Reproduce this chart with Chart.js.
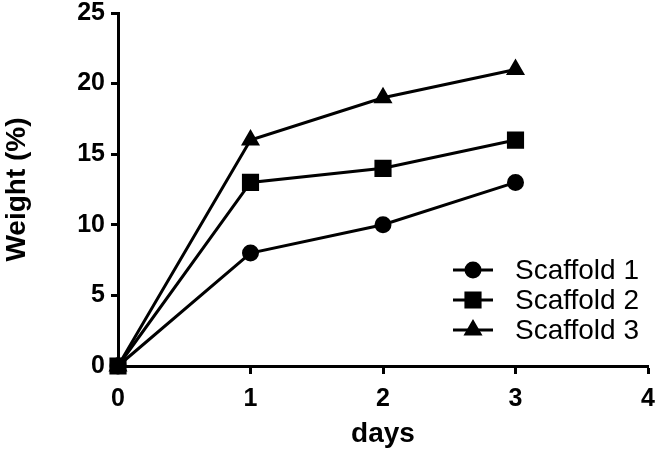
<!DOCTYPE html>
<html>
<head>
<meta charset="utf-8">
<script src="https://cdn.jsdelivr.net/npm/chart.js@4/dist/chart.umd.min.js"></script>
<style>
  html, body { margin: 0; padding: 0; background: #fff; }
  #wrap { width: 661px; height: 451px; }
</style>
</head>
<body>
<div id="wrap"><canvas id="weightChart"></canvas></div>
<script>
const days = [0, 1, 2, 3];
const scaffold1 = [0, 8, 10, 13];
const scaffold2 = [0, 13, 14, 16];
const scaffold3 = [0, 16, 19, 21];
const seriesNames = ['Scaffold 1', 'Scaffold 2', 'Scaffold 3'];
const markers = ['circle', 'rect', 'triangle'];
const markerSizes = [7, 10, 8];

const FONT = '"Liberation Sans", Arial, sans-serif';
const toPoints = vals => vals.map((v, i) => ({ x: days[i], y: v }));

// legend drawn inside the plot, lower right
const insideLegend = {
  id: 'insideLegend',
  afterDraw(chart) {
    const ctx = chart.ctx;
    const x0 = 453, x1 = 493, tx = 515;
    const rows = [270, 300, 330];
    ctx.save();
    chart.data.datasets.forEach((ds, i) => {
      const y = rows[i];
      ctx.strokeStyle = '#000';
      ctx.fillStyle = '#000';
      ctx.lineWidth = 3;
      ctx.beginPath();
      ctx.moveTo(x0, y);
      ctx.lineTo(x1, y);
      ctx.stroke();
      Chart.helpers.drawPoint(ctx, {
        pointStyle: ds.pointStyle,
        radius: ds.pointRadius,
        borderWidth: 1
      }, (x0 + x1) / 2, y);
      ctx.font = '28px ' + FONT;
      ctx.textBaseline = 'middle';
      ctx.textAlign = 'left';
      ctx.fillText(ds.label, tx, y + 1);
    });
    ctx.restore();
  }
};

const ctx = document.getElementById('weightChart').getContext('2d');
new Chart(ctx, {
  type: 'line',
  data: {
    datasets: [scaffold1, scaffold2, scaffold3].map((vals, i) => ({
      label: seriesNames[i],
      data: toPoints(vals),
      borderColor: '#000',
      backgroundColor: '#000',
      borderWidth: 3,
      pointStyle: markers[i],
      pointRadius: markerSizes[i],
      pointHoverRadius: markerSizes[i],
      pointBackgroundColor: '#000',
      pointBorderColor: '#000',
      tension: 0,
      clip: false
    }))
  },
  options: {
    responsive: true,
    maintainAspectRatio: false,
    animation: false,
    layout: { padding: { left: 0, right: 0, top: 11, bottom: 0 } },
    plugins: {
      legend: { display: false },
      tooltip: { enabled: false }
    },
    scales: {
      x: {
        type: 'linear',
        min: 0,
        max: 4,
        ticks: {
          stepSize: 1,
          color: '#000',
          padding: 10,
          font: { family: FONT, size: 25, weight: 'bold' }
        },
        grid: { drawOnChartArea: false, color: '#000', tickLength: 8, tickWidth: 3 },
        border: { color: '#000', width: 3 },
        title: {
          display: true,
          text: 'days',
          color: '#000',
          padding: { top: 0, bottom: 0 },
          font: { family: FONT, size: 28, weight: 'bold' }
        },
        afterFit: scale => {
          scale.height = 85;
          scale.paddingLeft = 0;
          scale.paddingRight = 9;
        }
      },
      y: {
        min: 0,
        max: 25,
        ticks: {
          stepSize: 5,
          color: '#000',
          padding: 6,
          font: { family: FONT, size: 25, weight: 'bold' }
        },
        grid: { drawOnChartArea: false, color: '#000', tickLength: 7, tickWidth: 3 },
        border: { color: '#000', width: 3 },
        title: {
          display: true,
          text: 'Weight (%)',
          color: '#000',
          padding: { top: 0, bottom: 0 },
          font: { family: FONT, size: 28, weight: 'bold' }
        },
        afterFit: scale => {
          scale.width = 118;
          scale.paddingTop = 0;
          scale.paddingBottom = 0;
        }
      }
    }
  },
  plugins: [insideLegend]
});
</script>
</body>
</html>
